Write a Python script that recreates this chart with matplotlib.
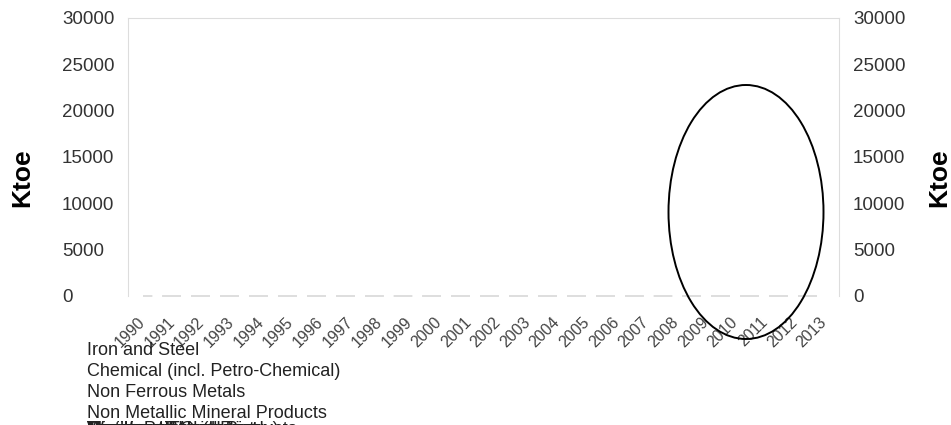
import matplotlib.pyplot as plt
from matplotlib.patches import Ellipse

plt.rcParams['font.family'] = ['Liberation Sans', 'DejaVu Sans']

# years on the x axis
years = ['1990', '1991', '1992', '1993', '1994', '1995', '1996', '1997',
         '1998', '1999', '2000', '2001', '2002', '2003', '2004', '2005',
         '2006', '2007', '2008', '2009', '2010', '2011', '2012', '2013']

# series names (legend)
sectors = ['Iron and Steel', 'Chemical (incl. Petro-Chemical)',
           'Non Ferrous Metals', 'Non Metallic Mineral Products',
           'Transport Equipment', 'Machinery', 'Mining and Quarrying',
           'Food and Tobacco', 'Paper, Pulp and Print',
           'Wood and Wood Products', 'Construction', 'Textile and Leather',
           'Non-specified (Industry)']

# every series sits on zero in the picture
zeros = [0, 0, 0, 0, 0, 0, 0, 0, 0, 0, 0, 0,
         0, 0, 0, 0, 0, 0, 0, 0, 0, 0, 0, 0]

yticks = [0, 5000, 10000, 15000, 20000, 25000, 30000]

W, H = 951, 425
fig = plt.figure(figsize=(W/100, H/100), dpi=100)
ax = fig.add_axes([128/W, 1 - 296/H, 711/W, 278/H])
x = range(len(years))
for s in sectors:
    ax.plot(x, zeros, color='#dedede', lw=1.3, ls=(5, (10, 6)), clip_on=False)

ax.set_xlim(-0.5, len(years) - 0.5)
ax.set_ylim(0, 30000)
ax.set_yticks(yticks)
# left labels are left aligned in the original
ax.set_yticklabels([str(v) for v in yticks], fontsize=13.5, color='#333333',
                   ha='left')
ax.set_xticks(list(x))
ax.set_xticklabels(years, rotation=45, ha='right', va='center',
                   rotation_mode='anchor', fontsize=11.5, color='#444444')
ax.tick_params(length=0)
ax.tick_params(axis='y', pad=47.5)
ax.tick_params(axis='x', pad=17)
for side in ['top', 'left', 'right']:
    ax.spines[side].set_color('#dddddd')
ax.spines['bottom'].set_visible(False)

ax2 = ax.twinx()
ax2.set_ylim(0, 30000)
ax2.set_yticks(yticks)
ax2.set_yticklabels([str(v) for v in yticks], fontsize=13.5, color='#333333')
ax2.tick_params(length=0, pad=10)
for side in ['top', 'left', 'right', 'bottom']:
    ax2.spines[side].set_visible(False)

# axis titles on both sides
fig.text(22/W, 1 - 178/H, 'Ktoe', fontsize=19, fontweight='bold',
         rotation=90, ha='center', va='center')
fig.text(939/W, 1 - 178/H, 'Ktoe', fontsize=19, fontweight='bold',
         rotation=90, ha='center', va='center')

# legend text, the tail overlaps below the bottom edge
legend_base = [355, 376, 397, 418]
for i, name in enumerate(sectors):
    ypix = legend_base[i] if i < len(legend_base) else 434
    fig.text(87/W, 1 - ypix/H, name, fontsize=13, color='#222222',
             va='baseline', ha='left')

# hand-drawn ellipse highlight
ell = Ellipse((746/W, 1 - 212/H), 155/W, 254/H,
              transform=fig.transFigure, fill=False, ec='black', lw=1.4)
fig.patches.append(ell)

fig.savefig('out.png', dpi=100)
